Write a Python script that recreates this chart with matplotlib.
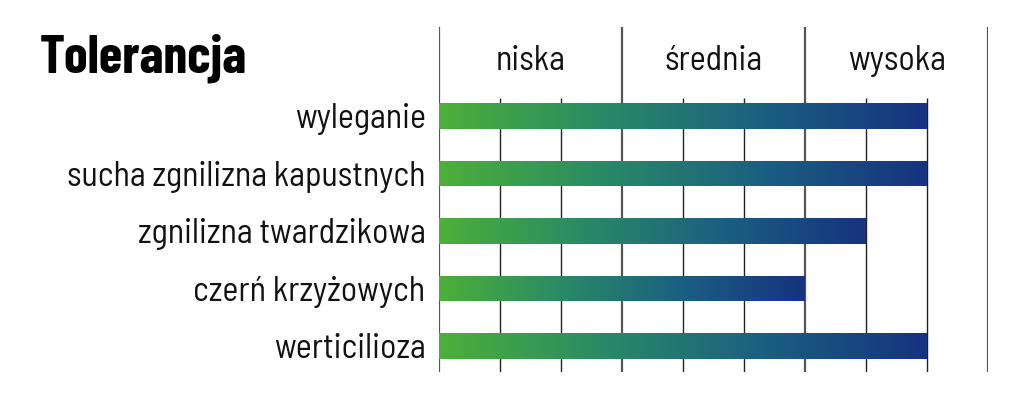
import numpy as np
import matplotlib
matplotlib.use("Agg")
import matplotlib.pyplot as plt
from matplotlib.colors import LinearSegmentedColormap

categories = ["wyleganie", "sucha zgnilizna kapustnych", "zgnilizna twardzikowa",
              "czerń krzyżowych", "werticilioza"]
values = [8, 8, 7, 6, 8]
levels = ["niska", "średnia", "wysoka"]
title = "Tolerancja"

FONT = ["Barlow Semi Condensed", "DejaVu Sans"]
TFONT = ["Barlow Condensed", "DejaVu Sans"]

fig = plt.figure(figsize=(10.24, 4.01), dpi=100)
W, H = 1024, 401
ax = fig.add_axes([439 / W, (H - 372) / H, 549 / W, 345 / H])
ax.set_xlim(0, 9)
ax.set_ylim(4.452, -1.548)
ax.axis("off")

cmap = LinearSegmentedColormap.from_list("g", ["#4cb038", "#2a8a66", "#1b5f82", "#16337f"])
grad = np.linspace(0, 1, 256).reshape(1, -1)

y = np.arange(len(categories))
bars = ax.barh(y, values, height=0.45, left=0, color="none", edgecolor="none")
for b in bars:
    x0, y0 = b.get_x(), b.get_y()
    w, h = b.get_width(), b.get_height()
    im = ax.imshow(grad, cmap=cmap, aspect="auto", extent=(x0, x0 + w, y0 + h, y0),
                   zorder=2, interpolation="bilinear")
    im.set_clip_path(b)
ax.set_xlim(0, 9)
ax.set_ylim(4.452, -1.548)

for t in range(10):
    if t % 3 == 0:
        ax.vlines(t, -1.548, 4.452, colors="#555555", linewidth=1.6, zorder=1)
    else:
        ax.vlines(t, -0.31, 4.452, colors="#222222", linewidth=1.0, zorder=1)

for i, lv in enumerate(levels):
    ax.text(1.5 + 3 * i, -0.8, lv, ha="center", va="baseline", fontsize=24.5,
            family=FONT, color="#111111")

for yi, c in zip(y, categories):
    ax.text(-0.22, yi + 0.215, c, ha="right", va="baseline", fontsize=24.5, family=FONT,
            color="#111111")

fig.text(40 / W, (H - 73) / H, title, ha="left", va="baseline", fontsize=38.5,
         fontweight="bold", family=TFONT, color="#000000")

fig.savefig("out.png", dpi=100)
